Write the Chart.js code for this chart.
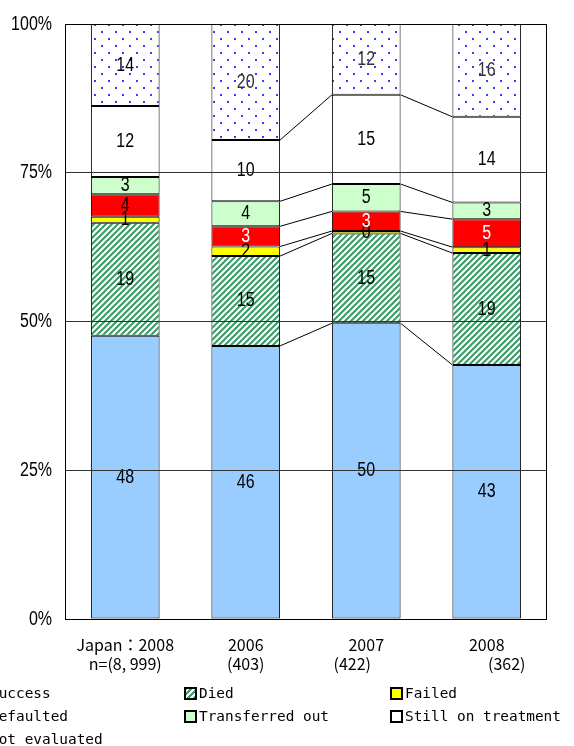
<!DOCTYPE html>
<html>
<head>
<meta charset="utf-8">
<script src="https://cdn.jsdelivr.net/npm/chart.js@4.4.0/dist/chart.umd.min.js"></script>
<style>
  html, body { margin: 0; padding: 0; background: #fff; overflow: hidden; }
  #wrap { position: relative; width: 574px; height: 746px; overflow: hidden; }
  #chartBox { position: absolute; left: 0; top: 0; width: 574px; height: 680px; }
  #legend { position: absolute; left: 0; top: 0; width: 574px; height: 746px; pointer-events: none;
            font-family: "DejaVu Sans Mono", monospace; font-size: 14.4px; color: #000; }
  .item { position: absolute; display: flex; align-items: center; white-space: nowrap; height: 18px; }
  .swatch { width: 9px; height: 9px; border: 2px solid #000; margin-right: 2px; box-sizing: content-box; }
</style>
</head>
<body>
<div id="wrap">
  <div id="chartBox"><canvas id="chart"></canvas></div>
  <div id="legend"></div>
</div>
<script>
// -----------------------
// Data (percent of cohort)
// -----------------------
const categories = ['Japan：2008', '2006', '2007', '2008'];
const sampleSizes = ['n=(8, 999)', '(403)', '(422)', '(362)'];
const seriesNames = ['Success', 'Died', 'Failed', 'Defaulted', 'Transferred out', 'Still on treatment', 'Not evaluated'];

const success          = [47.6, 45.9, 49.7, 42.7];
const died             = [19.0, 15.1, 15.1, 18.8];
const failed           = [1.0, 1.6, 0.4, 1.0];
const defaulted        = [3.8, 3.4, 3.3, 4.7];
const transferredOut   = [2.9, 4.2, 4.6, 2.8];
const stillOnTreatment = [11.9, 10.3, 15.0, 14.4];
const notEvaluated     = [13.8, 19.5, 11.9, 15.6];

const yTicks = [0, 25, 50, 75, 100];

// -----------------------
// Fill patterns
// -----------------------
function makeHatch() {
  const c = document.createElement('canvas');
  c.width = 6; c.height = 6;
  const g = c.getContext('2d');
  g.fillStyle = '#ffffff';
  g.fillRect(0, 0, 6, 6);
  g.strokeStyle = '#3f9c6c';
  g.lineWidth = 2.2;
  g.beginPath();
  g.moveTo(-1, 7); g.lineTo(7, -1);
  g.moveTo(-1, 1); g.lineTo(1, -1);
  g.moveTo(5, 7); g.lineTo(7, 5);
  g.stroke();
  return document.createElement('canvas').getContext('2d').createPattern(c, 'repeat');
}

function makeDots() {
  const c = document.createElement('canvas');
  c.width = 14; c.height = 14;
  const g = c.getContext('2d');
  g.fillStyle = '#ffffff';
  g.fillRect(0, 0, 14, 14);
  g.fillStyle = '#3a3aff';
  g.fillRect(3, 3, 2, 2);
  g.fillRect(10, 10, 2, 2);
  return document.createElement('canvas').getContext('2d').createPattern(c, 'repeat');
}

const fills = ['#99ccff', makeHatch(), '#ffff00', '#ff0000', '#ccffcc', '#ffffff', makeDots()];
const swatches = [
  '#99ccff',
  'repeating-linear-gradient(-45deg, #3f9c6c 0 2px, #ffffff 2px 4px)',
  '#ffff00', '#ff0000', '#ccffcc', '#ffffff',
  'radial-gradient(#4a4aff 1px, #ffffff 1px) 0 0 / 4px 4px'
];
const labelColors = [
  '#000', '#000', '#000',
  ['#000', '#fff', '#fff', '#fff'],
  '#000', '#000',
  ['#000', '#333', '#333', '#333']
];
const allSeries = [success, died, failed, defaulted, transferredOut, stillOnTreatment, notEvaluated];

// tall, narrow numerals (squeezed horizontally)
const numFont = '20px "Liberation Sans", Arial, sans-serif';
const squeeze = 0.8;

function narrowText(ctx, text, x, y) {
  ctx.save();
  ctx.translate(x, y);
  ctx.scale(squeeze, 1);
  ctx.fillText(text, 0, 0);
  ctx.restore();
}

// -----------------------
// Plugins
// -----------------------
const seriesLines = {
  id: 'seriesLines',
  afterDatasetsDraw(chart) {
    const ctx = chart.ctx;
    ctx.save();
    ctx.strokeStyle = '#000';
    ctx.lineWidth = 1;
    for (let d = 0; d < chart.data.datasets.length - 1; d++) {
      const bars = chart.getDatasetMeta(d).data;
      for (let i = 1; i < bars.length - 1; i++) {
        const a = bars[i], b = bars[i + 1];
        ctx.beginPath();
        ctx.moveTo(a.x + a.width / 2, a.y);
        ctx.lineTo(b.x - b.width / 2, b.y);
        ctx.stroke();
      }
    }
    ctx.restore();
  }
};

const valueLabels = {
  id: 'valueLabels',
  afterDatasetsDraw(chart) {
    const ctx = chart.ctx;
    ctx.save();
    ctx.font = numFont;
    ctx.textAlign = 'center';
    ctx.textBaseline = 'middle';
    chart.data.datasets.forEach((ds, d) => {
      chart.getDatasetMeta(d).data.forEach((bar, i) => {
        const col = labelColors[d];
        ctx.fillStyle = Array.isArray(col) ? col[i] : col;
        narrowText(ctx, String(Math.round(ds.data[i])), bar.x, (bar.y + bar.base) / 2);
      });
    });
    ctx.restore();
  }
};

const frameAndLabels = {
  id: 'frameAndLabels',
  afterDraw(chart) {
    const ctx = chart.ctx;
    const a = chart.chartArea;
    const xs = chart.scales.x;
    const ys = chart.scales.y;
    ctx.save();
    ctx.strokeStyle = '#000';
    ctx.lineWidth = 1;
    ctx.strokeRect(a.left + 0.5, a.top + 0.5, a.right - a.left - 1, a.bottom - a.top);

    // y tick labels
    ctx.fillStyle = '#000';
    ctx.font = numFont;
    ctx.textAlign = 'right';
    ctx.textBaseline = 'middle';
    yTicks.forEach(v => narrowText(ctx, v + '%', a.left - 13, ys.getPixelForValue(v)));

    // category labels
    ctx.textAlign = 'center';
    ctx.font = '16px "Noto Sans CJK JP", "Noto Sans", sans-serif';
    const shift2 = [0, 0, -14, 20];
    categories.forEach((c, i) => {
      const x = xs.getPixelForValue(i);
      ctx.fillText(c, x, a.bottom + 26);
      ctx.fillText(sampleSizes[i], x + shift2[i], a.bottom + 45);
    });
    ctx.restore();
  }
};

// -----------------------
// Chart
// -----------------------
const ctx = document.getElementById('chart').getContext('2d');
new Chart(ctx, {
  type: 'bar',
  data: {
    labels: categories,
    datasets: seriesNames.map((name, k) => ({
      label: name,
      data: allSeries[k],
      backgroundColor: fills[k],
      borderColor: '#000',
      borderWidth: 1,
      borderSkipped: false,
      barPercentage: 0.57,
      categoryPercentage: 1
    }))
  },
  options: {
    responsive: true,
    maintainAspectRatio: false,
    animation: false,
    layout: { padding: { left: 0, top: 24, right: 27, bottom: 0 } },
    plugins: { legend: { display: false }, tooltip: { enabled: false } },
    scales: {
      x: {
        stacked: true,
        grid: { display: false },
        border: { display: false },
        ticks: { display: false },
        afterFit(scale) { scale.height = 61; }
      },
      y: {
        stacked: true,
        min: 0,
        max: 100,
        afterBuildTicks(scale) { scale.ticks = yTicks.map(v => ({ value: v })); },
        grid: { color: '#333', lineWidth: 1, drawTicks: false, z: 1 },
        border: { display: false },
        ticks: { display: false },
        afterFit(scale) { scale.width = 65; }
      }
    }
  },
  plugins: [seriesLines, valueLabels, frameAndLabels]
});

// -----------------------
// Legend (3 columns, runs off the left edge)
// -----------------------
const legendEl = document.getElementById('legend');
const colX = [-25, 184, 390];
const rowY = [693, 716, 739];
seriesNames.forEach((name, k) => {
  const item = document.createElement('div');
  item.className = 'item';
  item.style.left = colX[k % 3] + 'px';
  item.style.top = (rowY[Math.floor(k / 3)] - 9) + 'px';
  item.innerHTML = `<span class="swatch" style="background:${swatches[k]}"></span><span>${name}</span>`;
  legendEl.appendChild(item);
});
</script>
</body>
</html>
